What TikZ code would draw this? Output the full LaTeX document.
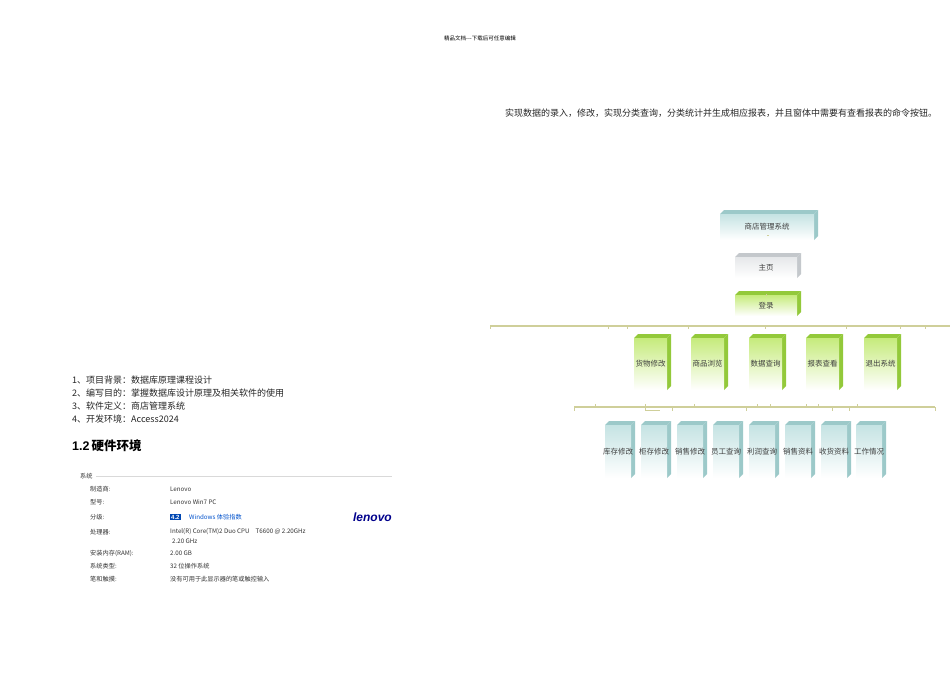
\documentclass[tikz,border=0pt]{standalone}
\usepackage{fontspec}
\newfontfamily\cjk{Noto Sans CJK SC}
\setmainfont{Liberation Serif}
\setsansfont{Liberation Sans}
\begin{document}
\begin{tikzpicture}[x=1pt,y=-1pt,
  lbl/.style={font=\cjk\fontsize{7.5}{8}\selectfont,inner sep=0pt,text=black!75},
  bar/.style={draw=barc,line width=1.6pt},
  tick/.style={draw=barc,line width=1pt},
  txt/.style={font=\cjk\fontsize{9}{11}\selectfont,anchor=west,inner sep=0pt,text=black!85},
  sys/.style={font=\cjk\fontsize{6.2}{7}\selectfont,anchor=west,inner sep=0pt,text=black!80}]
\definecolor{barc}{HTML}{CFCF9A}
\definecolor{bluef}{HTML}{C5E3E3}
\definecolor{blued}{HTML}{9CC9C9}
\definecolor{greenf}{HTML}{C6EB7C}
\definecolor{greend}{HTML}{93C93A}
\definecolor{greyf}{HTML}{E6E8EA}
\definecolor{greyd}{HTML}{C4C8CC}
\useasboundingbox (0,0) rectangle (950,672);
\fill[white] (0,0) rectangle (950,672);
\newcommand\bx[7]{%
  \fill[#7] (#2,#3) -- ++(4,-4) -- (#4+4,#3-4) -- (#4,#3) -- cycle;
  \fill[#7] (#4,#3) -- (#4+4,#3-4) -- (#4+4,#5-4) -- (#4,#5) -- cycle;
  \shade[top color=#6,bottom color=white] (#2,#3) rectangle (#4,#5);
  \node[lbl] (#1) at ({(#2+#4)/2},{(#3+#5)/2}) {#1};}
% header
\node[font=\cjk\fontsize{5.5}{6}\selectfont,inner sep=0pt] (hdr) at (480,38) {精品文档---下载后可任意编辑};
\node[anchor=north west,inner sep=0pt,text width=398pt,text=black!85,font=\cjk\fontsize{9}{13}\selectfont] (para) at (485,109) {\hspace*{2.2em}实现数据的录入，修改，实现分类查询，分类统计并生成相应报表，并且窗体中需要有查看报表的命令按钮。};
% boxes
\bx{商店管理系统}{720}{214}{814}{240}{bluef}{blued}
\bx{主页}{735}{257}{797}{278}{greyf}{greyd}
\bx{登录}{735}{295}{797}{316}{greenf}{greend}
\foreach \n/\x in {货物修改/634,商品浏览/691,数据查询/749,报表查看/806,退出系统/864}
  {\bx{\n}{\x}{338}{\x+33}{390}{greenf}{greend}}
\foreach \n/\x in {库存修改/605,柜存修改/641,销售修改/677,员工查询/713,利润查询/749,销售资料/785,收货资料/821,工作情况/856}
  {\bx{\n}{\x}{425}{\x+26}{478}{bluef}{blued}}
% connectors / bars
\draw[tick] (商店管理系统.south) ++(0,5) coordinate (c1) -- ++(2,0);
\draw[tick] (登录.north) ++(0,-8) coordinate (c2) -- ++(0,2);
\draw[bar] (490,326) coordinate (b1) -- (950,326) coordinate (b2);
\foreach \x in {490,608,627,688,765,846,900,925} \draw[tick] (\x,326) -- ++(0,3);
\draw[bar] (574,407) coordinate (b3) -- (935,407) coordinate (b4);
\foreach \x in {574,935,672,746,832,849} \draw[tick] (\x,407) -- ++(0,4);
\foreach \x in {595,645,694,757,770,806,818,857} \draw[tick] (\x,407) -- ++(0,-3);
\draw[tick] (645,407) -- (645,410) -- (660,410);
% left text
\foreach \t [count=\i] in {1、项目背景：数据库原理课程设计,2、编写目的：掌握数据库设计原理及相关软件的使用,3、软件定义：商店管理系统,4、开发环境：Access2024}
  \node[txt] (l\i) at (72,367+13*\i) {\t};
\node[anchor=west,inner sep=0pt,font=\sffamily\bfseries\fontsize{12.5}{14}\selectfont] (h12) at (72,446) {1.2\,{\cjk\bfseries 硬件环境}};
% system panel
\node[sys] (sysh) at (80,476) {系统};
\draw[black!15,line width=.4pt] (96,476) -- (392,476);
\foreach \a/\b/\y in {制造商:/Lenovo/489,型号:/Lenovo Win7 PC/502,分级:/{}/517,处理器:/{Intel(R) Core(TM)2 Duo CPU\quad T6600 @ 2.20GHz}/532,安装内存(RAM):/2.00 GB/553,系统类型:/32 位操作系统/566,笔和触摸:/没有可用于此显示器的笔或触控输入/579}
  {\node[sys] at (90,\y) {\a}; \node[sys] at (170,\y) {\b};}
\node[sys] (ghz) at (172,541) {2.20 GHz};
\node[fill=blue!60!cyan!70!black,text=white,font=\sffamily\bfseries\fontsize{6}{7}\selectfont,inner sep=1pt,anchor=west] (score) at (170,517) {4.2};
\node[sys,text=blue!60!cyan!80!black] (wei) at (189,517) {Windows 体验指数};
\node[anchor=east,inner sep=0pt,font=\sffamily\bfseries\itshape\fontsize{12}{13}\selectfont,text=blue!55!black] (lenovo) at (392,517) {lenovo};
\end{tikzpicture}
\end{document}
